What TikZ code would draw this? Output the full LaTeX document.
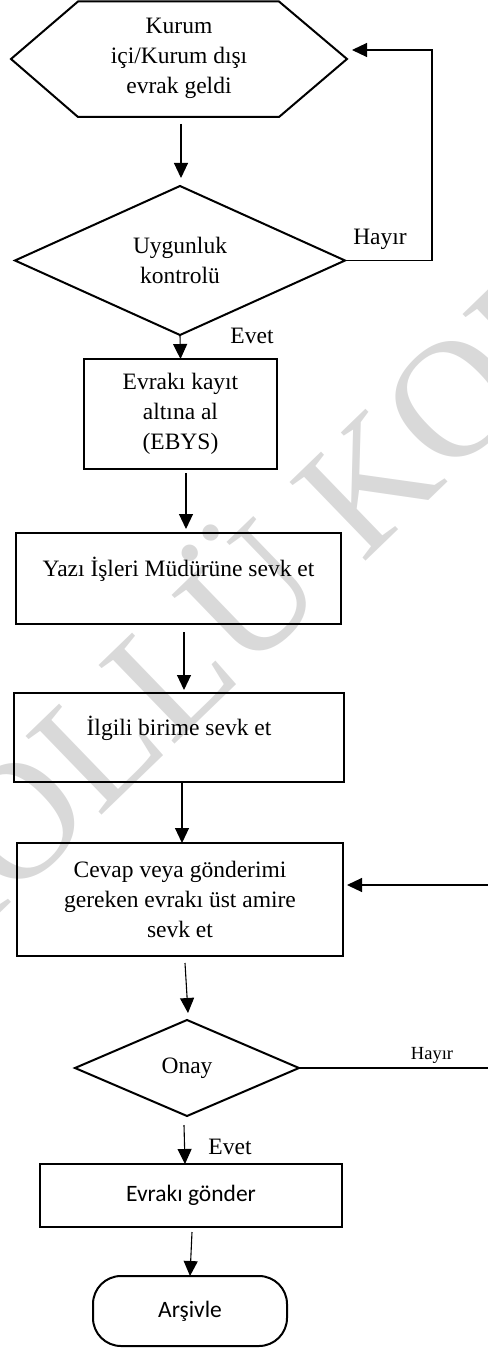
\documentclass[tikz,border=0pt]{standalone}
\usepackage{fontspec}
\setmainfont{Liberation Serif}
\newfontfamily\calfont{Carlito}
\usetikzlibrary{arrows.meta,shapes.geometric}
\begin{document}
\begin{tikzpicture}[x=1pt,y=-1pt,
  every node/.style={font=\fontsize{23.5}{30}\selectfont, inner sep=0pt, outer sep=0pt, align=center},
  box/.style={draw, line width=2pt, rectangle},
  dia/.style={draw, line width=2pt, diamond},
  term/.style={draw, line width=2pt, rectangle, rounded corners=28pt},
  arr/.style={line width=1.1pt, -{Triangle[length=15pt,width=14pt]}},
  lbl/.style={},
  wm/.style={text=black!15, font=\fontsize{167}{167}\selectfont}]
\useasboundingbox (0,0) rectangle (487,1348);
% watermark
\node[wm, rotate=44, anchor=base west] (wm) at (-402,1302) {KONTROLLÜ KOPYA};
% hexagon
\coordinate (hexL) at (11,59);
\coordinate (hexTL) at (78,1.5);
\coordinate (hexTR) at (279,1.5);
\coordinate (hexR) at (347,59);
\coordinate (hexBR) at (279,117);
\coordinate (hexBL) at (78,117);
\coordinate (hexB) at (181,117);
\coordinate (hexin) at (352,50);
\coordinate (fbc) at (432,50);
\coordinate (rtc) at (496,885);
\draw[line width=2pt, line join=miter] (hexL) -- (hexTL) -- (hexTR) -- (hexR) -- (hexBR) -- (hexBL) -- cycle;
\node (hex) at (179,58) {Kurum\\içi/Kurum dışı\\evrak geldi};
% nodes
\node[dia, minimum width=330pt, minimum height=149pt] (d1) at (180,260.5) {Uygunluk\\kontrolü};
\node[box, minimum width=193pt, minimum height=110pt] (b1) at (180.5,414) {Evrakı kayıt\\altına al\\(EBYS)};
\node[box, minimum width=325pt, minimum height=91pt, text height=16pt, text depth=19.5pt] (b2) at (178.5,578.5) {Yazı İşleri Müdürüne sevk et};
\node[box, minimum width=330pt, minimum height=89pt, text height=16pt, text depth=19.5pt] (b3) at (179,737.5) {İlgili birime sevk et};
\node[box, minimum width=326pt, minimum height=113pt] (b4) at (180,899.5) {Cevap veya gönderimi\\gereken evrakı üst amire\\sevk et};
\node[dia, minimum width=224pt, minimum height=96pt] (d2) at (187,1068) {Onay};
\node[box, minimum width=302pt, minimum height=63pt, font=\calfont\fontsize{23.5}{28}\selectfont] (b5) at (191,1195.5) {Evrakı gönder};
\node[term, minimum width=194pt, minimum height=70pt, font=\calfont\fontsize{23.5}{28}\selectfont] (term) at (190,1311) {Arşivle};
% labels
\node[lbl] (h1) at (380,239) {Hayır};
\node[lbl] (e1) at (252,336) {Evet};
\node[lbl, font=\fontsize{18.5}{22}\selectfont] (h2) at (432,1055) {Hayır};
\node[lbl] (e2) at (230,1147) {Evet};
% connectors
\draw[arr] ([yshift=-7pt]hexB) -- ([xshift=1pt,yshift=8pt]d1.north);
\draw[arr] (d1.east) -| (fbc) -- (hexin);
\draw[arr] (d1.south) -- (b1.north);
\draw[arr] ([xshift=5.5pt,yshift=-4pt]b1.south) -- ([xshift=7.5pt,yshift=4pt]b2.north);
\draw[arr] ([xshift=5.5pt,yshift=-8pt]b2.south) -- ([xshift=5pt,yshift=3pt]b3.north);
\draw[arr] ([xshift=3pt]b3.south) -- ([xshift=2pt]b4.north);
\draw[arr] ([xshift=5pt,yshift=-7pt]b4.south) -- ([xshift=1pt,yshift=7pt]d2.north);
\draw[arr] (d2.east) -| (rtc) -- ([xshift=4pt,yshift=14.5pt]b4.east);
\draw[arr] ([xshift=-3pt,yshift=-9pt]d2.south) -- ([xshift=-6pt]b5.north);
\draw[arr] ([xshift=1pt,yshift=-5pt]b5.south) -- (term.north);
\end{tikzpicture}
\end{document}
